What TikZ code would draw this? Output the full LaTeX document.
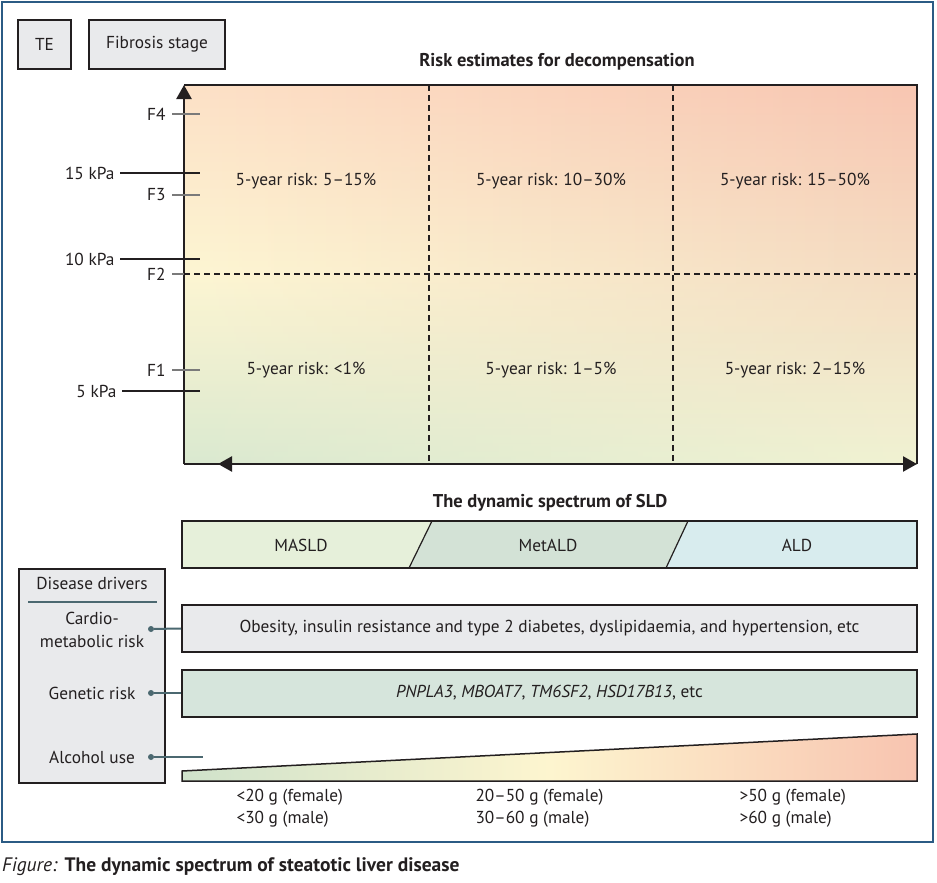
\documentclass[tikz,border=0pt]{standalone}
\usepackage{fontspec}
\setmainfont{PT Sans}
\usetikzlibrary{arrows.meta,fadings}

\definecolor{frameblue}{HTML}{2B5B84}
\definecolor{inkdark}{HTML}{231F20}
\definecolor{boxgray}{HTML}{E9EAEC}
\definecolor{tealline}{HTML}{4B6870}
\definecolor{tickgray}{HTML}{7A7A7A}
\definecolor{riskgreen}{HTML}{DAE9D0}
\definecolor{riskyellow}{HTML}{FDF6D3}
\definecolor{riskpeach}{HTML}{FDE1C7}
\definecolor{risksalmon}{HTML}{F8C6B2}
\definecolor{riskcream}{HTML}{F1F3D3}
\definecolor{masldgreen}{HTML}{E6F0DA}
\definecolor{metaldgreen}{HTML}{D3E2D6}
\definecolor{aldcyan}{HTML}{D8ECEE}
\definecolor{genegreen}{HTML}{D6E5DC}
\definecolor{alcgreen}{HTML}{CFE2CB}
\definecolor{alcyellow}{HTML}{FDF5CF}
\definecolor{alcsalmon}{HTML}{F8C4B0}

\begin{document}
\begin{tikzpicture}[x=1pt,y=-1pt,
    every node/.style={font=\fontsize{17.3}{23}\selectfont, text=inkdark},
    keybox/.style={rectangle, draw=inkdark, line width=2pt, fill=boxgray, minimum height=49pt},
    barbox/.style={rectangle, draw=inkdark, line width=2pt, minimum width=735pt, minimum height=47pt},
    headline/.style={font=\fontsize{18.5}{22}\selectfont\bfseries},
    kpatick/.style={draw=inkdark, line width=2pt},
    ftick/.style={draw=tickgray, line width=1.5pt},
    gridline/.style={draw=inkdark, line width=2pt, dash pattern=on 6pt off 4pt},
    axisline/.style={draw=inkdark, line width=2.4pt},
    axistip/.style={-{Triangle[width=15pt,length=14pt]}},
    dot/.style={circle, fill=tealline, inner sep=0pt, minimum size=6pt},
    link/.style={draw=tealline, line width=2pt},
    amount/.style={anchor=west, align=left, font=\fontsize{17.3}{22}\selectfont}
  ]
  \useasboundingbox (0,0) rectangle (937,883);
  \fill[white] (0,0) rectangle (937,883);
  \draw[frameblue, line width=1.5pt] (2,2) rectangle (933,842);

  % key boxes
  \node[keybox, minimum width=53pt] (te) at(44.5,44.5){TE};
  \node[keybox, minimum width=136pt] (fibrosis) at(157,44.5){Fibrosis stage};
  \node[headline] (risktitle) at(557,62){Risk estimates for decompensation};

  % risk chart
  \coordinate (chartNW) at(184,85);
  \coordinate (chartNE) at(917,85);
  \coordinate (chartSW) at(184,464);
  \coordinate (chartSE) at(917,464);
  \shade[top color=riskpeach, bottom color=riskgreen, middle color=riskyellow] (chartNW) rectangle (chartSE);
  \shade[top color=risksalmon, bottom color=riskcream, path fading=west] (chartNW) rectangle (chartSE);

  \draw[gridline] (429,85) -- (429,464);
  \draw[gridline] (673,85) -- (673,464);
  \draw[gridline] (184,274) -- (917,274);

  \draw[axisline] (chartNW) -- (chartNE) -- (chartSE);
  \draw[axisline, axistip] (chartSW) -- (chartNW);
  \draw[axisline] (chartSW) -- (218,464);
  \draw[axisline, axistip] (240,464) -- (218,464);
  \draw[axisline, axistip] (218,464) -- (chartSE);

  % stage and stiffness ticks
  \draw[ftick] (172,114) -- (200,114);
  \draw[ftick] (172,195) -- (200,195);
  \draw[ftick] (172,274) -- (184,274);
  \draw[ftick] (172,370) -- (200,370);
  \draw[kpatick] (120,173) -- (200,173);
  \draw[kpatick] (120,259) -- (200,259);
  \draw[kpatick] (122,391) -- (200,391);
  \node[anchor=east] (f4) at(169,114){F4};
  \node[anchor=east] (f3) at(169,195){F3};
  \node[anchor=east] (f2) at(169,274){F2};
  \node[anchor=east] (f1) at(169,370){F1};
  \node[anchor=east] (kpa15) at(118,173){15 kPa};
  \node[anchor=east] (kpa10) at(118,259){10 kPa};
  \node[anchor=east] (kpa5) at(120,391){5 kPa};

  \node (risk-hi-1) at(306,181){5-year risk: 5--15\%};
  \node (risk-hi-2) at(551,181){5-year risk: 10--30\%};
  \node (risk-hi-3) at(795,181){5-year risk: 15--50\%};
  \node (risk-lo-1) at(306,370){5-year risk: <1\%};
  \node (risk-lo-2) at(551,370){5-year risk: 1--5\%};
  \node (risk-lo-3) at(795,370){5-year risk: 2--15\%};

  % spectrum bar
  \node[headline] (sldtitle) at(550,503){The dynamic spectrum of SLD};
  \fill[masldgreen] (182,521) -- (432,521) -- (409,568) -- (182,568) -- cycle;
  \fill[metaldgreen] (432,521) -- (688,521) -- (666,568) -- (409,568) -- cycle;
  \fill[aldcyan] (688,521) -- (917,521) -- (917,568) -- (666,568) -- cycle;
  \draw[inkdark, line width=1.2pt] (432,521) -- (409,568);
  \draw[inkdark, line width=1.2pt] (688,521) -- (666,568);
  \draw[inkdark, line width=2pt] (182,521) rectangle (917,568);
  \node (masld) at(301,545){MASLD};
  \node (metald) at(548,545){MetALD};
  \node (ald) at(797,545){ALD};

  % disease drivers
  \node[keybox, minimum width=146pt, minimum height=214pt] (drivers) at(92,676){};
  \node (drv-title) at(92,583){Disease drivers};
  \draw[tealline, line width=1.5pt] (28,602) -- (157,602);
  \node[align=center] (drv-cardio) at(92,630){Cardio-\\metabolic risk};
  \node (drv-gene) at(92,693){Genetic risk};
  \node (drv-alc) at(92,757){Alcohol use};
  \node[dot] (dot-cardio) at(151,629){};
  \node[dot] (dot-gene) at(151,693){};
  \node[dot] (dot-alc) at(151,757){};

  \node[barbox, fill=boxgray] (cardio) at(549.5,628.5){Obesity, insulin resistance and type 2 diabetes, dyslipidaemia, and hypertension, etc};
  \node[barbox, fill=genegreen] (gene) at(549.5,693){\textit{PNPLA3}, \textit{MBOAT7}, \textit{TM6SF2}, \textit{HSD17B13}, etc};
  \coordinate (alc-end) at(203,757);
  \draw[link] (dot-cardio) -- (cardio.west);
  \draw[link] (dot-gene) -- (gene.west);
  \draw[link] (dot-alc) -- (alc-end);

  % alcohol wedge
  \shade[left color=alcgreen, right color=alcsalmon, middle color=alcyellow] (182,771) -- (917,734) -- (917,781) -- (182,781) -- cycle;
  \draw[inkdark, line width=1.5pt] (182,771) -- (917,734) -- (917,781) -- (182,781) -- cycle;
  \node[amount] (alc-low) at(233,808){<20 g (female)\\<30 g (male)};
  \node[amount] (alc-mid) at(472,808){20--50 g (female)\\30--60 g (male)};
  \node[amount] (alc-high) at(736,808){>50 g (female)\\>60 g (male)};

  % caption
  \node[anchor=west, inner sep=0pt, font=\fontsize{19.5}{22}\selectfont] (caption) at(2,867){\textit{Figure:} \textbf{The dynamic spectrum of steatotic liver disease}};
\end{tikzpicture}
\end{document}
